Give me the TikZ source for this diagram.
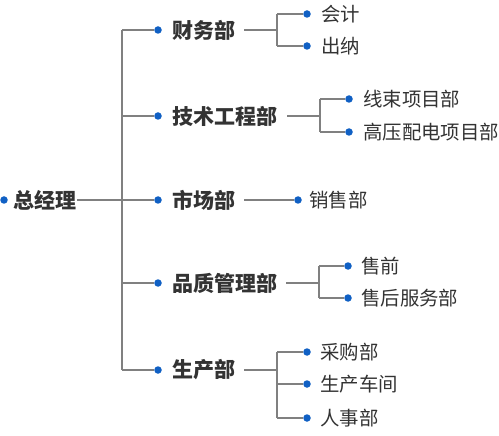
\documentclass[tikz,border=0pt]{standalone}
\usepackage{fontspec}
\setmainfont{Noto Sans CJK SC}
\definecolor{lineg}{RGB}{128,128,128}
\definecolor{dotb}{RGB}{16,96,196}
\definecolor{txt}{RGB}{51,51,51}
\begin{document}
\begin{tikzpicture}[x=1pt,y=-1pt,
  ln/.style={draw=lineg, line width=1.3pt},
  dot/.style={circle, fill=dotb, inner sep=0pt, minimum size=7.5pt},
  boldtxt/.style={anchor=west, inner sep=0pt, font=\fontsize{21}{21}\selectfont\bfseries, text=txt},
  leaf/.style={anchor=west, inner sep=0pt, font=\fontsize{19.4}{19.4}\selectfont, text=txt}]
\useasboundingbox[fill=white] (0,0) rectangle (499,436);
% root
\node[dot] (d0) at (4,200) {};
\node[boldtxt] (n0) at (13,200) {总经理};
\coordinate (r0) at (77,200);
\coordinate (tt) at (122,30);
\coordinate (tb) at (122,370);
\coordinate (tm) at (122,200);
\draw[ln] (r0) -- (tm);
\draw[ln] (tt) -- (tb);
% level 1
\node[dot] (d1) at (158,30) {};  \node[boldtxt] (n1) at (172,30) {财务部};
\node[dot] (d2) at (158,116) {}; \node[boldtxt] (n2) at (172,116) {技术工程部};
\node[dot] (d3) at (158,200) {}; \node[boldtxt] (n3) at (172,200) {市场部};
\node[dot] (d4) at (158,283) {}; \node[boldtxt] (n4) at (172,283) {品质管理部};
\node[dot] (d5) at (158,370) {}; \node[boldtxt] (n5) at (172,370) {生产部};
\coordinate (t1) at (122,30);
\coordinate (t2) at (122,116);
\coordinate (t3) at (122,200);
\coordinate (t4) at (122,283);
\coordinate (t5) at (122,370);
\draw[ln] (t1) -- (d1);
\draw[ln] (t2) -- (d2);
\draw[ln] (t3) -- (d3);
\draw[ln] (t4) -- (d4);
\draw[ln] (t5) -- (d5);
% 财务部 children
\coordinate (s1) at (244,30);
\coordinate (b1) at (277,30);
\coordinate (b1t) at (277,14);
\coordinate (b1b) at (277,46);
\node[dot] (d11) at (307,14) {}; \node[leaf] (n11) at (321,14) {会计};
\node[dot] (d12) at (307,46) {}; \node[leaf] (n12) at (321,46) {出纳};
\draw[ln] (s1) -- (b1);
\draw[ln] (b1t) -- (b1b);
\draw[ln] (b1t) -- (d11);
\draw[ln] (b1b) -- (d12);
% 技术工程部 children
\coordinate (s2) at (287,116);
\coordinate (b2) at (320,116);
\coordinate (b2t) at (320,99);
\coordinate (b2b) at (320,132);
\node[dot] (d21) at (349,99) {};  \node[leaf] (n21) at (363,99) {线束项目部};
\node[dot] (d22) at (349,132) {}; \node[leaf] (n22) at (363,132) {高压配电项目部};
\draw[ln] (s2) -- (b2);
\draw[ln] (b2t) -- (b2b);
\draw[ln] (b2t) -- (d21);
\draw[ln] (b2b) -- (d22);
% 市场部 child
\coordinate (s3) at (244,200);
\node[dot] (d31) at (298,200) {}; \node[leaf] (n31) at (309,200) {销售部};
\draw[ln] (s3) -- (d31);
% 品质管理部 children
\coordinate (s4) at (286,283);
\coordinate (b4) at (319,283);
\coordinate (b4t) at (319,266);
\coordinate (b4b) at (319,298);
\node[dot] (d41) at (348,266) {}; \node[leaf] (n41) at (361,266) {售前};
\node[dot] (d42) at (348,298) {}; \node[leaf] (n42) at (361,298) {售后服务部};
\draw[ln] (s4) -- (b4);
\draw[ln] (b4t) -- (b4b);
\draw[ln] (b4t) -- (d41);
\draw[ln] (b4b) -- (d42);
% 生产部 children
\coordinate (s5) at (244,370);
\coordinate (b5) at (277,370);
\coordinate (b5t) at (277,352);
\coordinate (b5m) at (277,384);
\coordinate (b5b) at (277,418);
\node[dot] (d51) at (307,352) {}; \node[leaf] (n51) at (320,352) {采购部};
\node[dot] (d52) at (307,384) {}; \node[leaf] (n52) at (320,384) {生产车间};
\node[dot] (d53) at (307,418) {}; \node[leaf] (n53) at (320,418) {人事部};
\draw[ln] (s5) -- (b5);
\draw[ln] (b5t) -- (b5b);
\draw[ln] (b5t) -- (d51);
\draw[ln] (b5m) -- (d52);
\draw[ln] (b5b) -- (d53);
\end{tikzpicture}
\end{document}
